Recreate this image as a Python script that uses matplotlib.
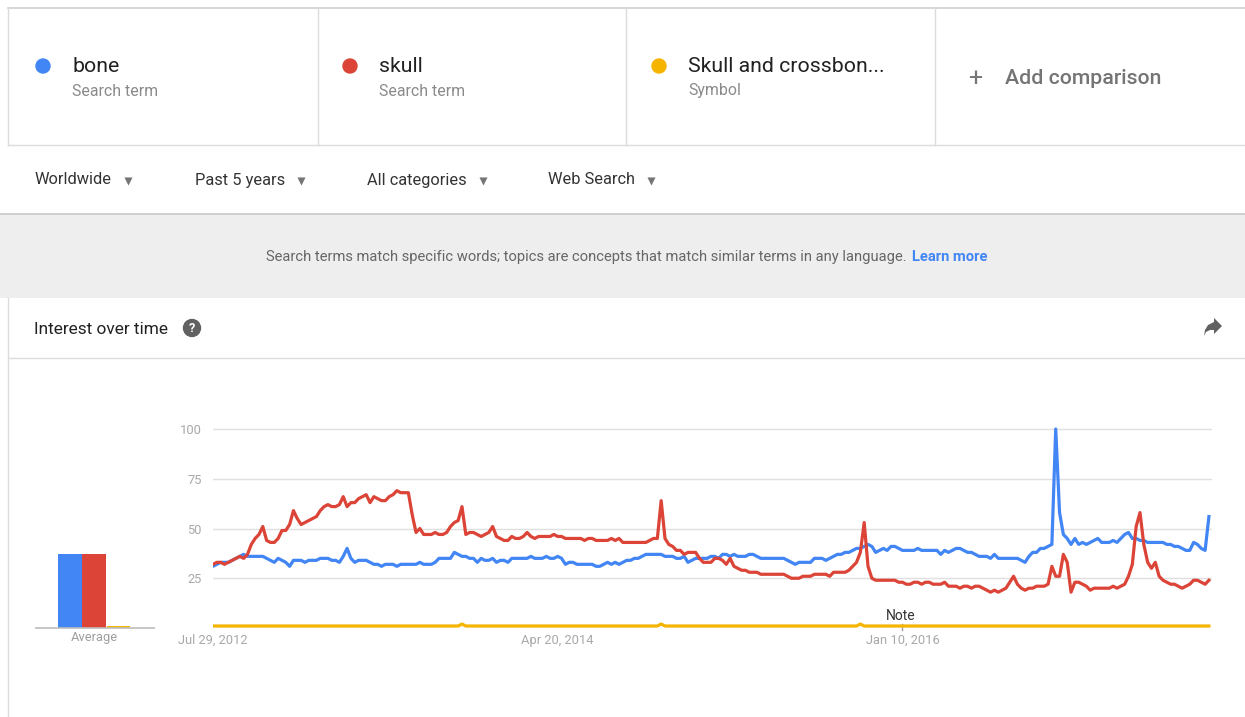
import matplotlib
matplotlib.use("Agg")
import matplotlib.pyplot as plt
import matplotlib.patches as mpatches
import pandas as pd

plt.rcParams['font.family'] = ['Roboto', 'DejaVu Sans']

W, H = 1245, 717

# weekly interest, starting Jul 29, 2012
bone = [31, 32, 33, 33, 33, 34, 35, 36, 37, 36, 36, 36, 36, 36, 35, 34, 33, 35, 34, 33,
        31, 34, 34, 34, 33, 34, 34, 34, 35, 35, 35, 34, 34, 33, 36, 40, 35, 33, 34, 34,
        34, 33, 32, 32, 31, 32, 32, 32, 31, 32, 32, 32, 32, 32, 33, 32, 32, 32, 33, 35,
        35, 35, 35, 38, 37, 36, 36, 35, 35, 33, 35, 34, 34, 35, 33, 34, 34, 33, 35, 35,
        35, 35, 35, 36, 35, 35, 35, 36, 35, 35, 36, 35, 32, 33, 33, 32, 32, 32, 32, 32,
        31, 31, 32, 33, 32, 33, 32, 33, 34, 34, 35, 35, 36, 37, 37, 37, 37, 37, 36, 36,
        36, 35, 35, 36, 33, 34, 35, 35, 35, 35, 36, 36, 35, 37, 37, 36, 37, 36, 36, 36,
        37, 37, 36, 35, 35, 35, 35, 35, 35, 35, 34, 33, 32, 33, 33, 33, 33, 35, 35, 35,
        34, 35, 36, 37, 37, 38, 38, 39, 40, 40, 41, 42, 41, 38, 39, 40, 39, 41, 41, 40,
        39, 39, 39, 39, 40, 39, 39, 39, 39, 39, 37, 39, 38, 39, 40, 40, 39, 38, 38, 37,
        36, 36, 36, 35, 37, 35, 35, 35, 35, 35, 35, 34, 33, 36, 38, 38, 40, 40, 41, 42,
        100, 58, 47, 45, 42, 45, 42, 43, 42, 43, 44, 45, 43, 43, 43, 44, 43, 45, 47, 48,
        45, 45, 44, 44, 43, 43, 43, 43, 43, 42, 42, 41, 41, 40, 39, 39, 43, 42, 40, 39,
        56]
skull = [32, 33, 33, 32, 33, 34, 35, 36, 35, 37, 42, 45, 47, 51, 44, 43, 43, 45, 49, 49,
         52, 59, 55, 52, 53, 54, 55, 56, 59, 61, 62, 61, 61, 62, 66, 61, 63, 63, 65, 66,
         67, 63, 66, 65, 64, 64, 66, 67, 69, 68, 68, 68, 57, 48, 50, 47, 47, 47, 48, 47,
         47, 48, 51, 53, 54, 61, 47, 48, 48, 47, 46, 47, 48, 51, 46, 45, 44, 44, 46, 45,
         45, 46, 48, 46, 45, 46, 46, 46, 46, 47, 46, 46, 45, 45, 45, 45, 45, 44, 45, 45,
         44, 44, 44, 44, 45, 44, 45, 43, 43, 43, 43, 43, 43, 43, 44, 45, 45, 64, 45, 42,
         41, 39, 39, 37, 38, 38, 38, 35, 33, 33, 33, 35, 35, 34, 32, 35, 31, 30, 29, 29,
         28, 28, 28, 27, 27, 27, 27, 27, 27, 27, 26, 25, 25, 25, 26, 26, 26, 27, 27, 27,
         27, 26, 28, 28, 28, 28, 29, 31, 33, 38, 53, 31, 25, 24, 24, 24, 24, 24, 24, 23,
         23, 22, 22, 23, 23, 22, 23, 23, 22, 22, 22, 23, 21, 21, 21, 20, 21, 21, 20, 21,
         21, 20, 19, 18, 19, 18, 19, 20, 23, 26, 22, 20, 19, 20, 20, 21, 21, 21, 22, 31,
         26, 26, 37, 33, 18, 23, 23, 22, 21, 19, 20, 20, 20, 20, 20, 21, 20, 21, 22, 26,
         32, 51, 58, 42, 33, 30, 33, 26, 24, 23, 22, 22, 21, 20, 21, 22, 24, 24, 23, 22,
         24]
crossbones = [1] * 261
for wk in (65, 117, 169):
    crossbones[wk] = 2

avg_labels = ["bone", "skull", "Skull and crossbones"]
avg_values = [37, 37, 1]

term_names = ["bone", "skull", "Skull and crossbon..."]
term_types = ["Search term", "Search term", "Symbol"]
filters = ["Worldwide", "Past 5 years", "All categories", "Web Search"]
x_ticks = ["2012-07-29", "2014-04-20", "2016-01-10"]
x_tick_labels = ["Jul 29, 2012", "Apr 20, 2014", "Jan 10, 2016"]

colors = ["#4285f4", "#db4437", "#f4b400"]
dates = pd.date_range("2012-07-29", periods=len(bone), freq="W-SUN")

fig = plt.figure(figsize=(W / 100, H / 100), dpi=100)
fig.patch.set_facecolor("white")

# page furniture in pixel coordinates
bg = fig.add_axes([0, 0, 1, 1])
bg.set_xlim(0, W)
bg.set_ylim(H, 0)
bg.axis("off")

line_c = "#dcdcdc"
bg.plot([8, W], [8, 8], color="#cfcfcf", lw=1.2)
bg.plot([8, 8], [8, 145], color=line_c, lw=1)
for xv in (318, 626, 935):
    bg.plot([xv, xv], [8, 145], color=line_c, lw=1)
bg.plot([8, W], [145, 145], color=line_c, lw=1)

dot_x = [43, 350, 659]
for i in range(3):
    bg.add_patch(mpatches.Circle((dot_x[i], 66), 7, color=colors[i]))
    bg.text(dot_x[i] + 29, 66, term_names[i], fontsize=15.3, color="#212121",
            va="center", ha="left")
    bg.text(dot_x[i] + 29, 91, term_types[i], fontsize=11.4, color="#8a8a8a",
            va="center", ha="left")
bg.text(975, 79, "+", fontsize=18, color="#757575", va="center", ha="center")
bg.text(1005, 79, "Add comparison", fontsize=15.3, color="#757575", va="center", ha="left",
        fontweight="medium")

# filter row
filter_x = [35, 195, 367, 548]
for fx, label in zip(filter_x, filters):
    t = bg.text(fx, 180, label, fontsize=11.8, color="#333333", va="center", ha="left")
    fig.canvas.draw()
    bb = t.get_window_extent()
    bg.scatter([bb.x1 + 16], [181], marker="v", s=34, color="#757575", lw=0)

bg.add_patch(mpatches.Rectangle((0, 213), W, 2.5, color="#d0d0d0", lw=0))
bg.add_patch(mpatches.Rectangle((0, 215), W, 83, color="#eeeeee", lw=0))
t1 = bg.text(0, 257, "Search terms match specific words; topics are concepts that match "
             "similar terms in any language.", fontsize=10.6, color="#666666",
             va="center", ha="left")
t2 = bg.text(0, 257, "Learn more", fontsize=10.6, color="#4285f4", va="center", ha="left",
             fontweight="bold")
fig.canvas.draw()
w1 = t1.get_window_extent().width
w2 = t2.get_window_extent().width
start = (260 + 993) / 2 - (w1 + 5 + w2) / 2
t1.set_x(start)
t2.set_x(start + w1 + 5)

# interest over time card
bg.plot([8, 8], [298, H], color=line_c, lw=1)
bg.plot([8, W], [358, 358], color=line_c, lw=1)
bg.text(34, 329, "Interest over time", fontsize=12.4, color="#212121", va="center", ha="left")
bg.add_patch(mpatches.Circle((192, 328), 8.5, color="#616161"))
bg.text(192, 328.5, "?", fontsize=9, color="white", fontweight="bold",
        va="center", ha="center")
arrow = [(1214, 322), (1214, 318), (1222, 326), (1214, 334), (1214, 330),
         (1210, 330), (1206, 332), (1204, 336), (1205, 330), (1208, 325)]
bg.add_patch(mpatches.Polygon(arrow, closed=True, color="#616161", lw=0))

# average bars
ylo, yhi = -1, 101
px0, px100 = 628, 429
top_px = px0 - (yhi - 0) * (px0 - px100) / 100
bot_px = px0 - (ylo - 0) * (px0 - px100) / 100
ax_b = fig.add_axes([35 / W, 1 - bot_px / H, 120 / W, (bot_px - top_px) / H])
ax_b.bar([0, 1, 2], avg_values, width=0.98, color=colors, align="edge")
ax_b.set_xlim(-0.95, 4.0)
ax_b.set_ylim(ylo, yhi)
ax_b.axhline(0, color="#bdbdbd", lw=1.2)
ax_b.axis("off")
bg.text(94, 638, "Average", fontsize=9.3, color="#9e9e9e", va="center", ha="center")

# line chart
ax = fig.add_axes([213 / W, 1 - bot_px / H, 999 / W, (bot_px - top_px) / H])
ax.plot(dates, bone, color=colors[0], lw=2.3, solid_joinstyle="round")
ax.plot(dates, skull, color=colors[1], lw=2.3, solid_joinstyle="round")
ax.plot(dates, crossbones, color=colors[2], lw=2.3, solid_joinstyle="round")
ax.set_xlim(dates[0], dates[0] + pd.Timedelta(weeks=260.8))
ax.set_ylim(ylo, yhi)
ax.set_yticks([25, 50, 75, 100])
ax.set_yticklabels(["25", "50", "75", "100"])
ax.yaxis.grid(True, color="#e0e0e0", lw=1)
ax.set_axisbelow(True)
ax.set_xticks(pd.to_datetime(x_ticks))
ax.set_xticklabels(x_tick_labels)
ax.tick_params(axis="both", length=0, labelsize=9.3, labelcolor="#a8a8a8")
ax.tick_params(axis="y", pad=8)
ax.tick_params(axis="x", pad=3)
for s in ax.spines.values():
    s.set_visible(False)
ax.patch.set_alpha(0)

bg.text(901, 616, "Note", fontsize=10, color="#333333", va="center", ha="center")
bg.plot([902, 902], [624, 630], color="#9e9e9e", lw=1)

fig.savefig("out.png", dpi=100)
